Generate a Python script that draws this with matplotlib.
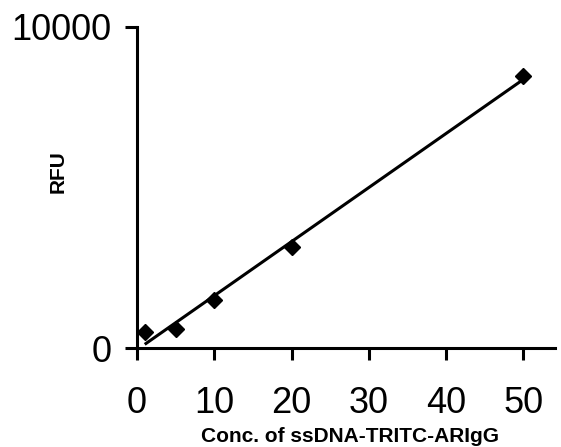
import matplotlib
matplotlib.use("Agg")
import matplotlib.pyplot as plt
import numpy as np

conc = [1, 5, 10, 20, 50]
rfu = [500, 590, 1500, 3150, 8470]
xticks = [0, 10, 20, 30, 40, 50]
yticks = [0, 10000]

plt.rcParams['font.family'] = ['Liberation Sans', 'DejaVu Sans']

fig = plt.figure(figsize=(5.61, 4.47), dpi=100)
ax = fig.add_axes([137/561, 99/447, 418/561, 321/447])

slope, intercept = np.polyfit(conc, rfu, 1)
xf = np.array([min(conc), max(conc)])
ax.plot(xf, slope*xf + intercept, color='black', lw=2.2, solid_capstyle='butt', zorder=2)
ax.plot(conc, rfu, linestyle='none', marker='D', markersize=8, color='black', zorder=3, clip_on=False)

ax.set_xlim(0, 54.1)
ax.set_ylim(0, 10000)
ax.set_xticks(xticks)
ax.set_yticks(yticks)
ax.set_xticklabels([str(v) for v in xticks])
ax.set_yticklabels([str(v) for v in yticks])

for s in ['top', 'right']:
    ax.spines[s].set_visible(False)
for s in ['left', 'bottom']:
    ax.spines[s].set_linewidth(2.2)
ax.tick_params(axis='both', direction='out', length=8.5, width=2.2, labelsize=26, color='black')
ax.tick_params(axis='x', pad=19)
ax.tick_params(axis='y', pad=10)

fig.text(350/561, 1 - 437/447, 'Conc. of ssDNA-TRITC-ARIgG', fontsize=15, fontweight='bold',
         ha='center', va='center')
fig.text(58/561, 1 - 172/447, 'RFU', fontsize=15, fontweight='bold', rotation=90,
         ha='center', va='center')

fig.savefig('out.png', dpi=100)
